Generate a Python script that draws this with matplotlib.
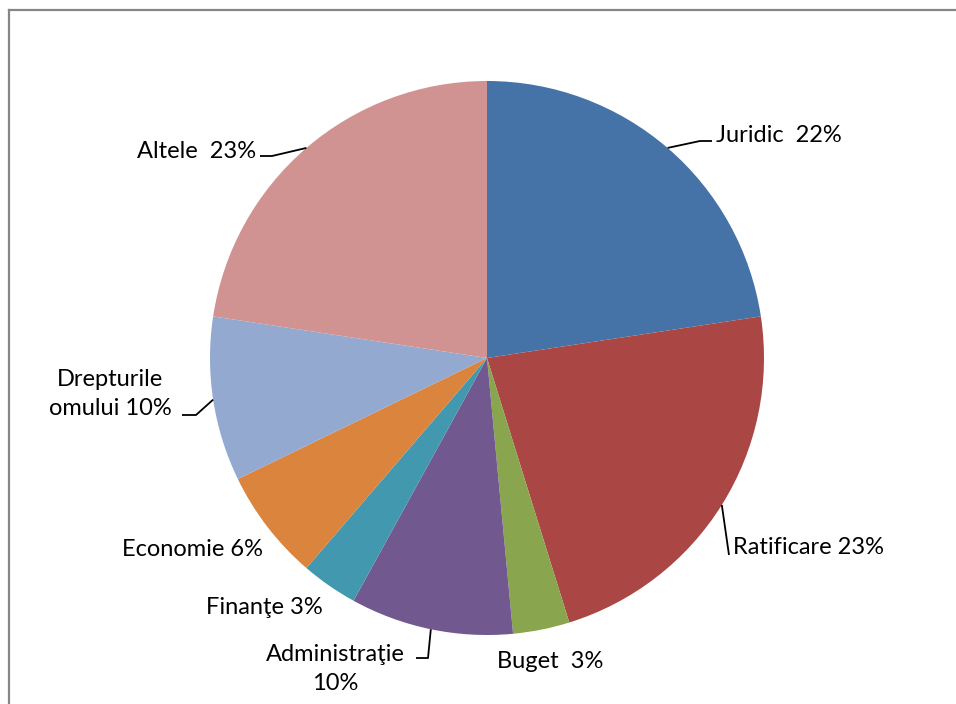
import numpy as np
import matplotlib
matplotlib.use("Agg")
import matplotlib.pyplot as plt
from matplotlib.lines import Line2D

# ---- data ----
categories = ["Juridic", "Ratificare", "Buget", "Administraţie", "Finanţe",
              "Economie", "Drepturile omului", "Altele"]
values = [22.6, 22.6, 3.3, 9.5, 3.3, 6.5, 9.6, 22.6]
label_texts = ["Juridic  22%", "Ratificare 23%", "Buget  3%", "Administraţie\n10%",
               "Finanţe 3%", "Economie 6%", "Drepturile\nomului 10%", "Altele  23%"]
colors = ["#4572A7", "#AA4643", "#89A54E", "#71588F", "#4198AF",
          "#DB843D", "#93A9CF", "#D19392"]

# ---- layout (pixel coordinates, y from top) ----
W, H = 956, 704
cx, cy, R = 487, 358, 277
label_pos = [  # (x, y, ha)
    (716, 136, "left"),
    (733, 548, "left"),
    (497, 661, "left"),
    (335, 669, "center"),
    (323, 608, "right"),
    (263, 549, "right"),
    (110, 394, "center"),
    (256, 152, "right"),
]
# leader line elbows: (elbow point, end point) or None
leaders = [
    [(700, 141), (712, 141)],
    [(729, 555)],
    None,
    [(428, 658), (416, 658)],
    None,
    None,
    [(196, 415), (182, 415)],
    [(272, 156), (260, 156)],
]

fig = plt.figure(figsize=(W / 100, H / 100), dpi=100)
ax = fig.add_axes([0, 0, 1, 1])
ax.set_xlim(0, W)
ax.set_ylim(0, H)
ax.set_aspect("equal")
ax.axis("off")

wedges, _ = ax.pie(values, colors=colors, startangle=90, counterclock=False,
                   center=(cx, H - cy), radius=R,
                   wedgeprops=dict(linewidth=0, edgecolor="none"))
ax.set_xlim(0, W)
ax.set_ylim(0, H)

font = ["Lato", "DejaVu Sans"]
for w, txt, (lx, ly, ha), ld in zip(wedges, label_texts, label_pos, leaders):
    ax.text(lx, H - ly, txt, ha=ha, va="center", fontsize=17, family=font,
            color="black", linespacing=1.5, multialignment="center")
    if ld is not None:
        mid = np.deg2rad((w.theta1 + w.theta2) / 2)
        sx, sy = cx + R * np.cos(mid), (H - cy) + R * np.sin(mid)
        xs = [sx] + [p[0] for p in ld]
        ys = [sy] + [H - p[1] for p in ld]
        ax.plot(xs, ys, color="black", linewidth=1.3, solid_capstyle="butt")

# chart area border (top and left visible)
fig.add_artist(Line2D([8.5 / W, 8.5 / W], [0, 1 - 9.5 / H], transform=fig.transFigure,
                      color="#868686", linewidth=1.6))
fig.add_artist(Line2D([8.5 / W, 1], [1 - 9.5 / H, 1 - 9.5 / H], transform=fig.transFigure,
                      color="#868686", linewidth=1.6))

fig.savefig("out.png", dpi=100, facecolor="white")
